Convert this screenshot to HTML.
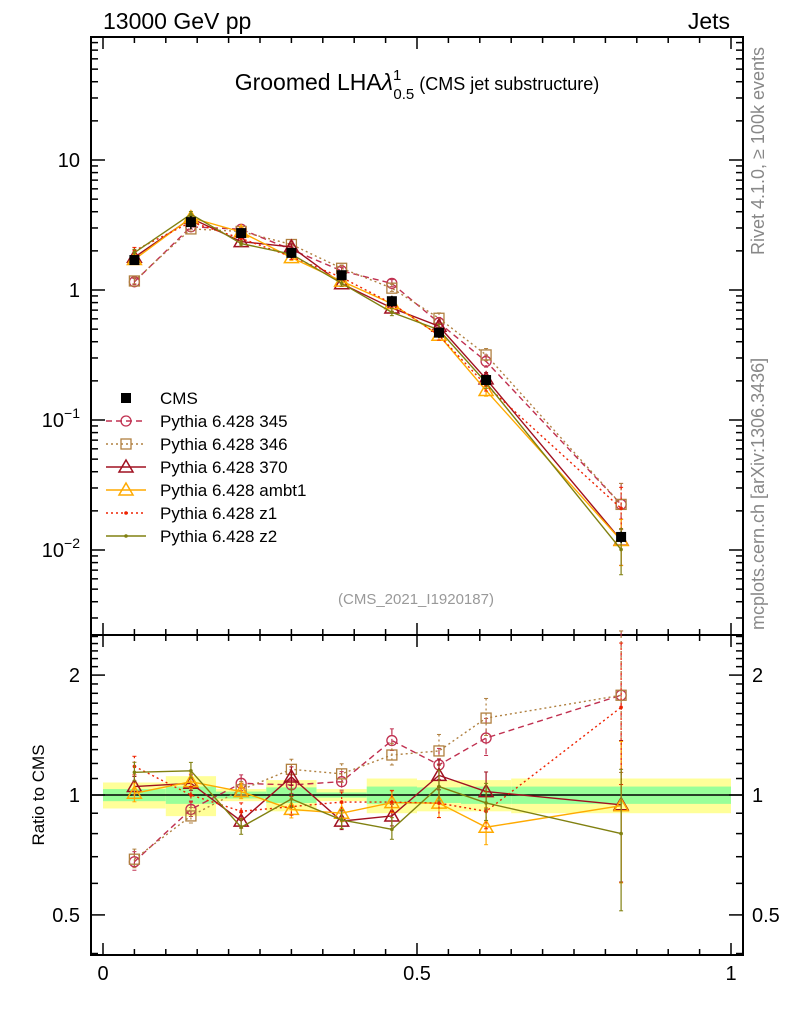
<!DOCTYPE html>
<html><head><meta charset="utf-8">
<style>
html,body{margin:0;padding:0;background:#fff;}
svg{display:block;font-family:"Liberation Sans",sans-serif;}
</style></head>
<body>
<svg id="c" width="786" height="1024" viewBox="0 0 786 1024">
<text x="103" y="29" font-size="23">13000 GeV pp</text>
<text x="730" y="29" font-size="23" text-anchor="end">Jets</text>
<text x="417" y="90" font-size="23" text-anchor="middle">Groomed LHA<tspan font-style="italic">λ</tspan><tspan font-size="15" dy="-10">1</tspan><tspan font-size="15" dx="-8" dy="19">0.5</tspan><tspan font-size="18" dy="-9"> (CMS jet substructure)</tspan></text>
<text x="416" y="604" font-size="15" fill="#999" text-anchor="middle">(CMS_2021_I1920187)</text>
<text transform="translate(764,255) rotate(-90)" font-size="18" fill="#888">Rivet 4.1.0, ≥ 100k events</text>
<text transform="translate(764,630) rotate(-90)" font-size="18" fill="#888">mcplots.cern.ch [arXiv:1306.3436]</text>
<text transform="translate(44,795) rotate(-90)" font-size="17" text-anchor="middle">Ratio to CMS</text>
<g id="g"></g>
</svg>
<script>
const xCenters=[0.05,0.14,0.22,0.30,0.38,0.46,0.535,0.61,0.825];
const binEdges=[0,0.1,0.18,0.26,0.34,0.42,0.5,0.57,0.65,1.0];
const cmsValues=[1.70,3.33,2.74,1.93,1.30,0.82,0.47,0.203,0.0126];
const bandYellow=[0.075,0.115,0.035,0.09,0.035,0.1,0.09,0.09,0.1];
const bandGreen=[0.035,0.05,0.02,0.045,0.015,0.05,0.045,0.05,0.05];
const r345=[0.68,0.92,1.07,1.06,1.08,1.37,1.19,1.39,1.78];
const r346=[0.69,0.886,1.03,1.16,1.13,1.26,1.29,1.56,1.78];
const r370=[1.05,1.07,0.86,1.11,0.86,0.886,1.12,1.02,0.945];
const rAmbt1=[1.01,1.08,1.02,0.92,0.90,0.957,0.954,0.83,0.94];
const rZ1=[1.18,1.0,0.91,0.935,0.96,0.96,0.954,0.91,1.66];
const rZ2=[1.14,1.15,0.83,0.977,0.866,0.82,1.05,0.955,0.8];
const relErr=[0.06,0.05,0.05,0.06,0.06,0.07,0.1,0.12,0.45];
const mainTicks=[["10",1],["1",0],["10⁻¹",-1],["10⁻²",-2]];
const ratioTicks=[["2",2],["1",1],["0.5",0.5]];
const xTicks=[["0",0],["0.5",0.5],["1",1]];

const NS="http://www.w3.org/2000/svg";
const G=document.getElementById('g');
function mk(t,a,p){const e=document.createElementNS(NS,t);for(const k in a)e.setAttribute(k,a[k]);(p||G).appendChild(e);return e;}
const L=91,R=743,T=37,M=635,B=955;
const X=v=>103+v*628;
const Y=v=>290-130*Math.log10(v);
const YR=r=>795-173*Math.log(r);

for(let i=0;i<xCenters.length;i++){
  let e=mk('rect',{x:X(binEdges[i]),y:YR(1+bandYellow[i]),width:X(binEdges[i+1])-X(binEdges[i]),height:YR(1-bandYellow[i])-YR(1+bandYellow[i]),fill:'#ffff99'});
  
  
  let f=mk('rect',{x:X(binEdges[i]),y:YR(1+bandGreen[i]),width:X(binEdges[i+1])-X(binEdges[i]),height:YR(1-bandGreen[i])-YR(1+bandGreen[i]),fill:'#99ff99'});
  
  
}
let one=mk('line',{x1:L,x2:R,y1:YR(1),y2:YR(1),stroke:'#000','stroke-width':1.5});



let f1=mk('rect',{x:L,y:T,width:R-L,height:M-T,fill:'none',stroke:'#000','stroke-width':2});


let f2=mk('rect',{x:L,y:M,width:R-L,height:B-M,fill:'none',stroke:'#000','stroke-width':2});



for(let k=0;k<=20;k++){const v=k*0.05,x=X(v),big=k%10==0,len=big?12:6;
  for(const [yb,yt] of [[M,T],[B,M]]){
    mk('line',{x1:x,x2:x,y1:yb,y2:yb-len,stroke:'#000','stroke-width':1.5});
    mk('line',{x1:x,x2:x,y1:yt,y2:yt+len,stroke:'#000','stroke-width':1.5});
  }}
xTicks.forEach(t=>{let e=mk('text',{x:X(t[1]),y:980,'font-size':20,'text-anchor':'middle'});e.textContent=t[0];
  
  });

for(let d=-3;d<=1;d++)for(let m=1;m<=9;m++){const v=m*Math.pow(10,d),y=Y(v);if(y<T||y>M)continue;
  const len=m==1?14:7;
  mk('line',{x1:L,x2:L+len,y1:y,y2:y,stroke:'#000','stroke-width':1.5});
  mk('line',{x1:R,x2:R-len,y1:y,y2:y,stroke:'#000','stroke-width':1.5});}
mainTicks.forEach(t=>{const y=Y(Math.pow(10,t[1]));let e=mk('text',{x:80,y:y+7,'font-size':20,'text-anchor':'end'});
  if(t[0].includes('⁻')){e.textContent='10';let s=mk('tspan',{'font-size':14,dy:-9},e);s.textContent=t[0].slice(2)=='⁻¹'?'−1':'−2';}
  else e.textContent=t[0];
  
  });

for(let k=4;k<=25;k++){const r=k/10;const y=YR(r);if(y<M||y>B)continue;
  const big=(r==0.5||r==1||r==2);const len=big?14:7;
  mk('line',{x1:L,x2:L+len,y1:y,y2:y,stroke:'#000','stroke-width':1.5});
  mk('line',{x1:R,x2:R-len,y1:y,y2:y,stroke:'#000','stroke-width':1.5});}
ratioTicks.forEach(t=>{const y=YR(t[1]);
  for(const [x,a] of [[80,'end'],[752,'start']]){let e=mk('text',{x:x,y:y+7,'font-size':20,'text-anchor':a});e.textContent=t[0];
  
  }});

const series=[
 {n:'pythia-345',lab:'Pythia 6.428 345',r:r345,c:'#c03050',d:'6,4',m:'circle'},
 {n:'pythia-346',lab:'Pythia 6.428 346',r:r346,c:'#b08040',d:'2,3',m:'square'},
 {n:'pythia-370',lab:'Pythia 6.428 370',r:r370,c:'#a01020',d:'',m:'tri'},
 {n:'pythia-ambt1',lab:'Pythia 6.428 ambt1',r:rAmbt1,c:'#ffaa00',d:'',m:'tri'},
 {n:'pythia-z1',lab:'Pythia 6.428 z1',r:rZ1,c:'#ee2200',d:'2,3',m:'dot'},
 {n:'pythia-z2',lab:'Pythia 6.428 z2',r:rZ2,c:'#808010',d:'',m:'dot'}];
function marker(type,x,y,c,g){
  if(type=='circle')mk('circle',{cx:x,cy:y,r:5,fill:'none',stroke:c,'stroke-width':1.3},g);
  else if(type=='square')mk('rect',{x:x-5,y:y-5,width:10,height:10,fill:'none',stroke:c,'stroke-width':1.3},g);
  else if(type=='tri')mk('path',{d:`M${x},${y-7}L${x+7},${y+5}L${x-7},${y+5}Z`,fill:'none',stroke:c,'stroke-width':1.5},g);
  else mk('circle',{cx:x,cy:y,r:1.8,fill:c},g);
}
series.forEach(s=>{
  for(const pane of ['main','ratio']){
    const g=mk('g',{});
    
    
    const pts=xCenters.map((x,i)=>{const r=s.r[i];return pane=='main'?[X(x),Y(r*cmsValues[i]),Y(r*cmsValues[i]*(1+relErr[i])),Y(r*cmsValues[i]*(1-relErr[i]*0.8))]:[X(x),YR(r),YR(r*(1+relErr[i])),YR(r*(1-relErr[i]*0.8))];});
    mk('polyline',{points:pts.map(p=>p[0]+','+p[1]).join(' '),fill:'none',stroke:s.c,'stroke-width':1.4,'stroke-dasharray':s.d},g);
    pts.forEach(p=>{mk('line',{x1:p[0],x2:p[0],y1:p[2],y2:p[3],stroke:s.c,'stroke-width':1.2,'stroke-dasharray':s.d},g);
      mk('line',{x1:p[0]-2,x2:p[0]+2,y1:p[2],y2:p[2],stroke:s.c},g);mk('line',{x1:p[0]-2,x2:p[0]+2,y1:p[3],y2:p[3],stroke:s.c},g);
      marker(s.m,p[0],p[1],s.c,g);});
  }
});
const cg=mk('g',{});


xCenters.forEach((x,i)=>{const px=X(x),py=Y(cmsValues[i]);
  mk('line',{x1:px,x2:px,y1:Y(cmsValues[i]*(1+bandYellow[i])),y2:Y(cmsValues[i]*(1-bandYellow[i])),stroke:'#000','stroke-width':1.5},cg);
  mk('rect',{x:px-5,y:py-5,width:10,height:10,fill:'#000'},cg);});

const lg=mk('g',{});


const ly0=398,ldy=23;
mk('rect',{x:121,y:ly0-5,width:10,height:10,fill:'#000'},lg);
let t0=mk('text',{x:160,y:ly0+6,'font-size':17},lg);t0.textContent='CMS';
series.forEach((s,i)=>{const y=ly0+ldy*(i+1);
  mk('line',{x1:106,x2:146,y1:y,y2:y,stroke:s.c,'stroke-width':1.4,'stroke-dasharray':s.d},lg);
  marker(s.m,126,y,s.c,lg);
  let t=mk('text',{x:160,y:y+6,'font-size':17},lg);t.textContent=s.lab;
  
  });
</script>
</body></html>
